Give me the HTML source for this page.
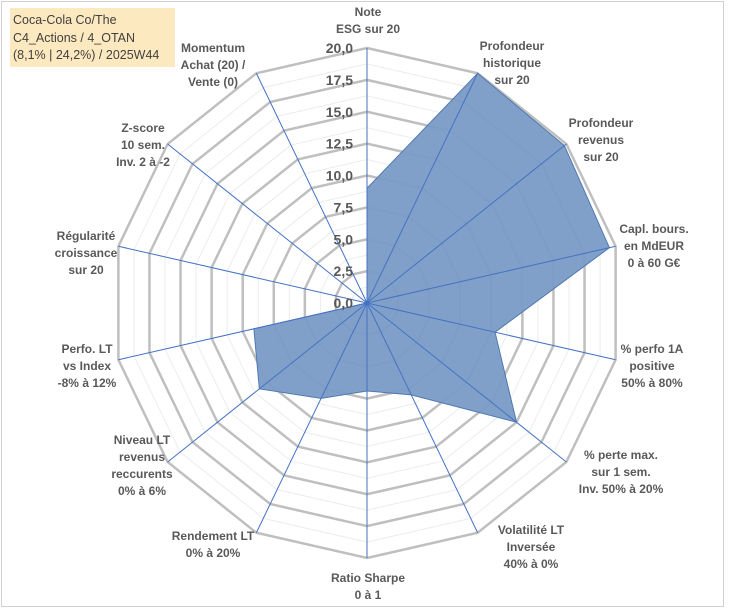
<!DOCTYPE html>
<html><head><meta charset="utf-8"><style>
html,body{margin:0;padding:0;background:#fff;}
#wrap{position:relative;width:729px;height:610px;overflow:hidden;background:#fff;}
#frame{position:absolute;left:1px;top:1px;width:721px;height:604px;border:1px solid #d0d0d0;}
#title{position:absolute;left:10px;top:8px;width:165px;height:59px;background:#fde9bf;font-family:"Liberation Sans",sans-serif;font-size:12.5px;line-height:17.5px;color:#404040;padding:4px 0 0 3px;box-sizing:border-box;white-space:nowrap;}
svg{position:absolute;left:0;top:0;}
</style></head><body>
<div id="wrap">
<div id="frame"></div>
<div id="title">Coca-Cola Co/The<br>C4_Actions / 4_OTAN<br>(8,1% | 24,2%) / 2025W44</div>
<svg id="chart" width="729" height="610"></svg>
</div>
<script>
const categories = [
 ["Note","ESG sur 20"],
 ["Profondeur","historique","sur 20"],
 ["Profondeur","revenus","sur 20"],
 ["Capl. bours.","en MdEUR","0 à 60 G€"],
 ["% perfo 1A","positive","50% à 80%"],
 ["% perte max.","sur 1 sem.","Inv. 50% à 20%"],
 ["Volatilité LT","Inversée","40% à 0%"],
 ["Ratio Sharpe","0 à 1"],
 ["Rendement LT","0% à 20%"],
 ["Niveau LT","revenus","reccurents","0% à 6%"],
 ["Perfo. LT","vs Index","-8% à 12%"],
 ["Régularité","croissance","sur 20"],
 ["Z-score","10 sem.","Inv. 2 à -2"],
 ["Momentum","Achat (20) /","Vente (0)"]
];
const values = [9.0, 20.0, 19.8, 19.5, 10.3, 15.0, 8.0, 6.9, 8.3, 10.8, 9.1, 0, 0, 0];
const tickLabels = ["0,0","2,5","5,0","7,5","10,0","12,5","15,0","17,5","20,0"];
const tickValues = [0,2.5,5,7.5,10,12.5,15,17.5,20];
// label layout (pixel anchors: center x, first-line center y)
const labelLayout = [[368,12],[512,46],[601,123],[654,229],[652,349],[621,455],[531,530],[368,578],[213,536],[142,440],[87,349],[86,236],[143,128],[213,48]];

const NS="http://www.w3.org/2000/svg";
const svg=document.getElementById('chart');
const cx=367, cy=303, R=255, maxV=20;
const N=categories.length;
function ang(i){return i*2*Math.PI/N;}
function pt(i,v){const r=v/maxV*R;return [cx+r*Math.sin(ang(i)), cy-r*Math.cos(ang(i))];}
function mk(tag,attrs){const e=document.createElementNS(NS,tag);for(const k in attrs)e.setAttribute(k,attrs[k]);svg.appendChild(e);return e;}

for(let v=1.25; v<maxV; v+=2.5){
  const p=mk('polygon',{points:categories.map((c,i)=>pt(i,v).join(',')).join(' '),fill:'none',stroke:'#ececec','stroke-width':1});
  
  
}
tickValues.slice(1).forEach(v=>{
  const p=mk('polygon',{points:categories.map((c,i)=>pt(i,v).join(',')).join(' '),fill:'none',stroke:'#bfbfbf','stroke-width':2.5});
  
  
});
const poly=mk('polygon',{points:values.map((v,i)=>pt(i,v).join(',')).join(' '),fill:'#7a9bc6','fill-opacity':0.95,stroke:'#4f79b0','stroke-width':1});


categories.forEach((c,i)=>{
  const [x,y]=pt(i,maxV);
  const l=mk('line',{x1:cx,y1:cy,x2:x,y2:y,stroke:'#4472c4','stroke-width':1});
  
  
});
tickValues.forEach((v,k)=>{
  const t=mk('text',{x:cx-14,y:cy-v/maxV*R+5,'text-anchor':'end','font-family':'Liberation Sans, sans-serif','font-size':14,'font-weight':'bold',fill:'#595959'});
  t.textContent=tickLabels[k];
  
  
});
categories.forEach((lines,i)=>{
  const [x,y0]=labelLayout[i];
  const t=mk('text',{'text-anchor':'middle','font-family':'Liberation Sans, sans-serif','font-size':12,'font-weight':'bold',fill:'#595959'});
  
  
  lines.forEach((ln,k)=>{
    const ts=document.createElementNS(NS,'tspan');
    ts.setAttribute('x',x);ts.setAttribute('y',y0+4+k*17);
    ts.textContent=ln;t.appendChild(ts);
  });
});
</script>
</body></html>
